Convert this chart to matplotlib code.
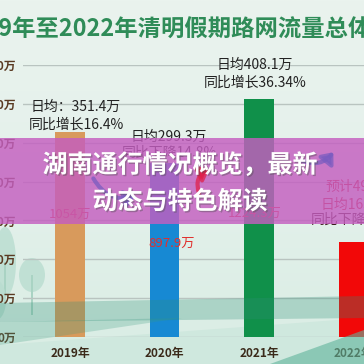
import numpy as np
import matplotlib
matplotlib.use("Agg")
import matplotlib.pyplot as plt
import matplotlib.patheffects as pe
from matplotlib.patches import Rectangle, Polygon, Ellipse, FancyArrowPatch

plt.rcParams["font.family"] = ["Noto Sans CJK SC", "DejaVu Sans"]

# =========================
# DATA
# =========================
years = ["2019年", "2020年", "2021年", "2022年"]
totals = [1054, 897.9, 1224.3, 491]
total_labels = ["1054万", "897.9万", "1224.3万", ""]
bar_colors = ["#d89a5c", "#1789d3", "#10904a", "#f20808"]
y_ticks = [0, 200, 400, 600, 800, 1000, 1200, 1400]

title = "2019年至2022年清明假期路网流量总体情况"
banner = ["湖南通行情况概览，最新", "动态与特色解读"]

W = H = 364

# =========================
# FIGURE + BACKGROUND
# =========================
fig = plt.figure(figsize=(3.64, 3.64), dpi=100)

bg = fig.add_axes([0, 0, 1, 1], zorder=0)
bg.set_xlim(0, W)
bg.set_ylim(H, 0)
bg.axis("off")
grad = np.linspace(0, 1, 256).reshape(-1, 1)
bg.imshow(grad, extent=[0, W, H, 0], aspect="auto",
          cmap=matplotlib.colors.LinearSegmentedColormap.from_list(
              "bgc", ["#eaf3ee", "#e4f1eb", "#d9ede4"]))
# pale trees on the left
for cx, cy, w, h in [(5, 262, 22, 70), (32, 275, 26, 34), (-4, 300, 20, 40)]:
    bg.add_patch(Ellipse((cx, cy), w, h, color="#b9ddd0", alpha=0.8, lw=0))
    bg.add_patch(Rectangle((cx - 1, cy), 2, 40, color="#a9d3c3", lw=0))
bg.add_patch(Polygon([(0, 345), (364, 318), (364, 364), (0, 364)],
                     closed=True, color="#cfe8de", lw=0))

# =========================
# CHART
# =========================
ax = fig.add_axes([22.75 / W, (H - 337) / H, 378 / W, 272 / H], zorder=1)
ax.patch.set_alpha(0)
x = np.arange(len(years))
ax.bar(x, totals, width=0.31, color=bar_colors, zorder=3)
ax.set_xlim(-0.5, 3.5)
ax.set_ylim(0, 1400)
ax.set_yticks(y_ticks)
ax.set_yticklabels([f"{v}万" for v in y_ticks], fontsize=8.5,
                   fontweight="bold", color="#5a3a22")
ax.set_xticks(x)
ax.set_xticklabels(years, fontsize=8.5, fontweight="bold", color="#3b2a1a")
ax.tick_params(length=0, pad=5)
ax.tick_params(axis="x", pad=7)
ax.grid(axis="y", color="#b9c4c0", lw=1, zorder=0)
for s in ax.spines.values():
    s.set_visible(False)

# value labels inside bars
label_y = [632, 484, 638, 0]
label_dx = [0, 0.08, -0.05, 0]
for i, lab in enumerate(total_labels):
    if lab:
        ax.text(x[i] + label_dx[i], label_y[i], lab, ha="center", va="center",
                fontsize=9.5, color="#e0302e", zorder=4)

# notes
ax.text(-0.42, 1184, "日均：351.4万", fontsize=10, color="#222222", va="center")
ax.text(-0.44, 1091, "同比增长16.4%", fontsize=10, color="#222222", va="center")
ax.text(0.64, 1029, "日均299.3万", fontsize=10, color="#222222", va="center")
ax.text(0.55, 947, "同比下降14.8%", fontsize=10, color="#222222", va="center")
ax.text(1.96, 1400, "日均408.1万", fontsize=10, color="#222222", ha="center", va="center")
ax.text(1.96, 1307, "同比增长36.34%", fontsize=10, color="#222222", ha="center", va="center")
ax.text(3.05, 772, "预计491万", fontsize=10, color="#c8202a", ha="center", va="center")
ax.text(3.05, 679, "日均163.7万", fontsize=10, color="#c8202a", ha="center", va="center")
ax.text(3.05, 602, "同比下降59.9%", fontsize=10, color="#3a1a1a", ha="center", va="center")

# =========================
# OVERLAY (landscape band + banner)
# =========================
top = fig.add_axes([0, 0, 1, 1], zorder=2)
top.set_xlim(0, W)
top.set_ylim(H, 0)
top.axis("off")
top.patch.set_alpha(0)
top.add_patch(Polygon([(0, 303), (364, 296), (364, 318), (0, 322)],
                      closed=True, color="#2d8f76", alpha=0.28, lw=0))
top.add_patch(Polygon([(0, 322), (182, 318), (0, 345)],
                      closed=True, color="#3a9a80", alpha=0.25, lw=0))
top.add_patch(Polygon([(270, 364), (364, 330), (364, 364)],
                      closed=True, color="#5fb39a", alpha=0.6, lw=0))

top.add_patch(Rectangle((0, 138), W, 86, color="#c45ec0", alpha=0.82, lw=0))
for (x0, y0, x1, y1, c, rad) in [(92, 176, 138, 196, "#7a5cc0", 0.4),
                                 (200, 196, 212, 168, "#e0204a", -0.5),
                                 (300, 160, 335, 150, "#7a5cc0", 0.4)]:
    top.add_patch(FancyArrowPatch((x0, y0), (x1, y1), connectionstyle=f"arc3,rad={rad}",
                                  arrowstyle="-|>,head_length=6,head_width=5",
                                  color=c, lw=3, alpha=0.75))
for k, line in enumerate(banner):
    top.text(180, 165 + 37 * k, line, ha="center", va="center", fontsize=18,
             fontweight="bold", color="white",
             path_effects=[pe.withSimplePatchShadow(offset=(1, -1), alpha=0.4)])

# title (cropped on both sides like the reference)
fig.text(-43 / W, 1 - 30 / H, title, ha="left", va="center", fontsize=16.8,
         fontweight="bold", color="#2f8c58")

fig.savefig("out.png", dpi=100)
